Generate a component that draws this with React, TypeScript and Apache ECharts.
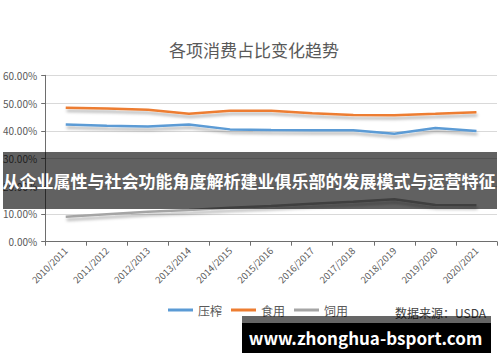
import React, { useEffect, useRef } from "react";
import * as echarts from "echarts";

const categories = [
  "2010/2011", "2011/2012", "2012/2013", "2013/2014", "2014/2015", "2015/2016",
  "2016/2017", "2017/2018", "2018/2019", "2019/2020", "2020/2021",
];
const crushing = [42.3, 41.8, 41.5, 42.3, 40.5, 40.3, 40.2, 40.2, 38.9, 41.0, 39.9];
const foodUse = [48.3, 48.0, 47.6, 46.1, 47.2, 47.2, 46.3, 45.7, 45.6, 46.1, 46.7];
const feedUse = [9.0, 9.9, 10.8, 11.4, 12.2, 12.9, 13.7, 14.4, 15.3, 13.2, 13.1];
const seriesNames = ["压榨", "食用", "饲用"];
const colors = ["#5B9BD5", "#ED7D31", "#A5A5A5"];
const yTicks = [0, 10, 20, 30, 40, 50, 60];

const titleText = "各项消费占比变化趋势";
const sourceText = "数据来源：USDA";
const bannerText = "从企业属性与社会功能角度解析建业俱乐部的发展模式与运营特征";
const watermarkText = "www.zhonghua-bsport.com";

const FONT = '"Noto Sans CJK SC", "Noto Sans", sans-serif';

export default function App() {
  const ref = useRef<HTMLDivElement>(null);
  useEffect(() => {
    if (!ref.current) return;
    const chart = echarts.init(ref.current, undefined, { renderer: "svg" });
    const data = [crushing, foodUse, feedUse];
    chart.setOption({
      animation: false,
      backgroundColor: "#ffffff",
      textStyle: { fontFamily: FONT },
      grid: { left: 45, right: 3, top: 75.3, bottom: 120.3, containLabel: false },
      legend: {
        left: 168,
        top: 304,
        padding: 0,
        icon: "rect",
        itemWidth: 25,
        itemHeight: 3,
        itemGap: 9,
        textStyle: { fontSize: 12, color: "#595959", fontFamily: FONT },
        data: seriesNames,
      },
      xAxis: {
        type: "category",
        data: categories,
        boundaryGap: true,
        axisLine: { lineStyle: { color: "#6e6e6e", width: 1 } },
        axisTick: { show: true, length: 4, lineStyle: { color: "#6e6e6e" } },
        axisLabel: {
          interval: 0,
          rotate: 45,
          fontSize: 9.5,
          color: "#595959",
          margin: 7,
          fontFamily: FONT,
        },
      },
      yAxis: {
        type: "value",
        min: yTicks[0],
        max: yTicks[yTicks.length - 1],
        interval: 10,
        axisLine: { show: true, lineStyle: { color: "#6e6e6e", width: 1 } },
        axisTick: { show: true, length: 4, lineStyle: { color: "#6e6e6e" } },
        splitLine: { lineStyle: { color: "#d9d9d9", width: 1 } },
        axisLabel: {
          fontSize: 10,
          color: "#595959",
          margin: 8,
          fontFamily: FONT,
          formatter: (v: number) => v.toFixed(2) + "%",
        },
      },
      series: seriesNames.map((name, i) => ({
        name,
        type: "line",
        data: data[i],
        symbol: "none",
        smooth: false,
        color: colors[i],
        lineStyle: {
          width: 2.5,
          color: colors[i],
          shadowColor: "rgba(0,0,0,0.3)",
          shadowBlur: 3,
          shadowOffsetY: 3,
          shadowOffsetX: 1,
        },
        z: 3 - i,
      })),
      graphic: [
        {
          type: "text",
          x: 254,
          y: 49,
          style: {
            text: titleText,
            fontSize: 17,
            fontFamily: FONT,
            fill: "#595959",
            textAlign: "center",
            textVerticalAlign: "middle",
          },
        },
        {
          type: "text",
          x: 395,
          y: 312,
          style: {
            text: sourceText,
            fontSize: 12,
            fontFamily: FONT,
            fill: "#404040",
            textAlign: "left",
            textVerticalAlign: "middle",
          },
        },
        {
          type: "rect",
          z: 100,
          shape: { x: 3, y: 152, width: 494, height: 57 },
          style: { fill: "rgba(0,0,0,0.62)" },
        },
        {
          type: "text",
          z: 101,
          x: 249,
          y: 180.5,
          style: {
            text: bannerText,
            fontSize: 17,
            fontWeight: "bold",
            fontFamily: FONT,
            fill: "#ffffff",
            textAlign: "center",
            textVerticalAlign: "middle",
          },
        },
        {
          type: "rect",
          z: 100,
          shape: { x: 242, y: 316, width: 249, height: 37 },
          style: { fill: "rgba(0,0,0,0.6)" },
        },
        {
          type: "rect",
          z: 101,
          shape: { x: 242, y: 323, width: 249, height: 30 },
          style: { fill: "#000000" },
        },
        {
          type: "text",
          z: 102,
          x: 365.5,
          y: 337,
          style: {
            text: watermarkText,
            fontSize: 17,
            fontWeight: "bold",
            fontFamily: FONT,
            fill: "#ffffff",
            textAlign: "center",
            textVerticalAlign: "middle",
          },
        },
      ],
    });
    return () => chart.dispose();
  }, []);
  return (
    <div
      ref={ref}
      style={{ position: "absolute", left: 0, top: 0, width: 500, height: 362 }}
    />
  );
}
